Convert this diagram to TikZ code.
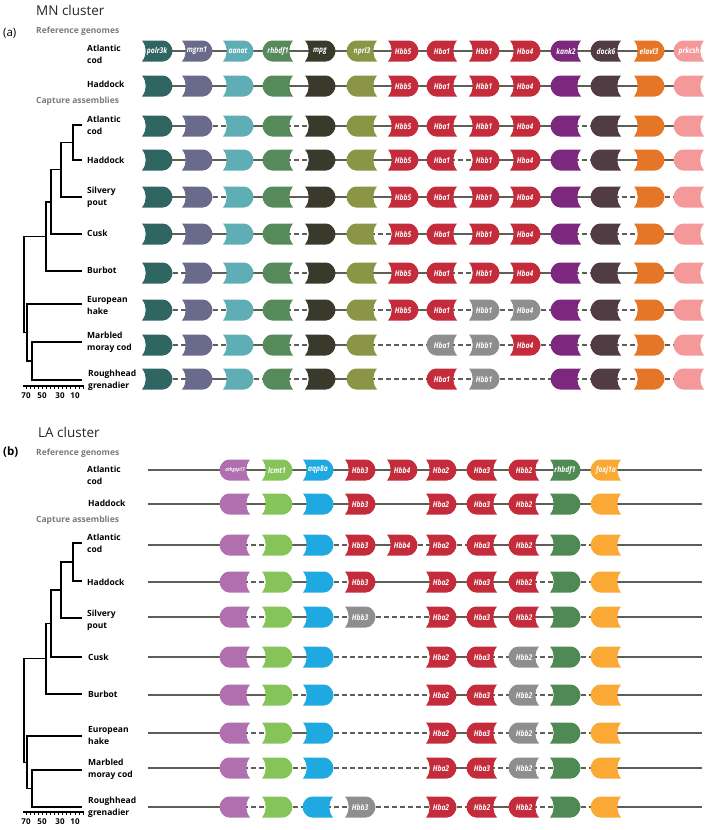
\documentclass[tikz,border=0pt]{standalone}
\usepackage{fontspec}
\setmainfont{Open Sans}
\newfontfamily\gfont[FakeStretch=0.84]{Open Sans}
\pgfdeclarelayer{bg}
\pgfsetlayers{bg,main}
\definecolor{mA}{HTML}{2F6662}
\definecolor{mB}{HTML}{6A6A8C}
\definecolor{mC}{HTML}{5FAEB6}
\definecolor{mD}{HTML}{578A5B}
\definecolor{mE}{HTML}{3A3A2C}
\definecolor{mF}{HTML}{8A9545}
\definecolor{hb}{HTML}{C42C3B}
\definecolor{gy}{HTML}{8E8E8E}
\definecolor{mK}{HTML}{7D287F}
\definecolor{mL}{HTML}{513C44}
\definecolor{mM}{HTML}{E57628}
\definecolor{mN}{HTML}{F4989A}
\definecolor{lA}{HTML}{B06FAE}
\definecolor{lB}{HTML}{86C45A}
\definecolor{lC}{HTML}{1EA9E1}
\definecolor{lD}{HTML}{4F8A55}
\definecolor{lE}{HTML}{F9A934}
\definecolor{lnk}{HTML}{5E5E55}
\definecolor{hdr}{HTML}{7B7B7B}
\tikzset{
  glabel/.style={rectangle, minimum width=30pt, minimum height=21pt, inner sep=0pt,
    text=white, font=\gfont\bfseries\itshape\fontsize{8}{8}\selectfont},
  lks/.style={draw=lnk, line width=1.2pt},
  lkd/.style={draw=lnk, line width=1.2pt, dash pattern=on 4.5pt off 3.5pt},
  species/.style={anchor=west, align=left, inner sep=0pt,
    font=\bfseries\fontsize{8.5}{12}\selectfont},
  section/.style={anchor=west, inner sep=0pt, text=hdr,
    font=\bfseries\fontsize{8.5}{10}\selectfont},
  title/.style={anchor=west, inner sep=0pt, text=black!85,
    font=\fontsize{13.5}{15}\selectfont},
  panel/.style={anchor=west, inner sep=0pt, font=\fontsize{11.5}{13}\selectfont},
  treeline/.style={draw=black, line width=1.4pt},
  scalebar/.style={draw=black, line width=1.8pt},
  scaletick/.style={draw=black, line width=0.9pt},
  scalenum/.style={inner sep=0pt, font=\bfseries\fontsize{8}{9}\selectfont}
}
\newcommand\gshape[4]{%
  \fill[#4, shift={(#1,#2)}, xscale=#3]
    (-15,-10.5) .. controls (-10,-4) and (-10,4) .. (-15,10.5)
    -- (6,10.5) .. controls (12,10.5) and (15.5,4) .. (15.5,0)
    .. controls (15.5,-4) and (12,-10.5) .. (6,-10.5) -- cycle;}
\newcommand\gene[6]{%
  \gshape{#2}{#3}{#4}{#5}%
  \node[glabel] (#1) at (#2,#3) {#6};}
\def\MNX{{157,197,238,278,320,362,403,442,484,525,566,606,649,689}}
\def\LAX{{235,277,318,360,402,441,482,524,565,606}}
\newcommand\generow[5]{%
  \foreach \c/\cl/\dr/\lb in {#4}{%
    \pgfmathsetmacro\gx{#2[\c-1]}%
    \gene{#1g\c}{\gx}{#3}{\dr}{\cl}{\lb}}%
  \begin{pgfonlayer}{bg}
    \foreach \a/\b/\t in {#5}{\draw[lk\t] (#1g\a.center) -- (#1g\b.center);}
  \end{pgfonlayer}}
\newcommand\larow[4]{%
  \coordinate (#1g0) at (148,#2);
  \coordinate (#1g11) at (702,#2);
  \generow{#1}{\LAX}{#2}{#3}{#4}}
\newcommand\drawtree[8]{%
  \pgfmathsetmacro\nAH{(#1+#2)/2}%
  \pgfmathsetmacro\nS{(\nAH+#3)/2}%
  \pgfmathsetmacro\nC{(\nS+#4)/2}%
  \pgfmathsetmacro\nB{(\nC+#5)/2}%
  \pgfmathsetmacro\nMR{(#7+#8)/2}%
  \pgfmathsetmacro\nE{(#6+\nMR)/2}%
  \draw[treeline] (82,#1) -| (73,#2) -- (82,#2);
  \draw[treeline] (73,\nAH) -| (61,#3) -- (82,#3);
  \draw[treeline] (61,\nS) -| (51,#4) -- (82,#4);
  \draw[treeline] (51,\nC) -| (46,#5) -- (82,#5);
  \draw[treeline] (82,#7) -| (32,#8) -- (82,#8);
  \draw[treeline] (32,\nMR) -| (27,#6) -- (82,#6);
  \draw[treeline] (46,\nB) -| (24,\nE) -- (27,\nE);}
\newcommand\drawscale[2]{%
  \draw[scalebar] (23,#1) -- (83.5,#1);
  \foreach \u in {0,5,...,70}{\draw[scaletick] (83.2-0.817*\u,#1) -- ++(0,2.8);}
  \node[scalenum] (#2a) at (26,#1+10) {70};
  \node[scalenum] (#2b) at (42,#1+10) {50};
  \node[scalenum] (#2c) at (60,#1+10) {30};
  \node[scalenum] (#2d) at (75,#1+10) {10};}
\begin{document}
\begin{tikzpicture}[x=1pt,y=-1pt]
\useasboundingbox (0,0) rectangle (709,830);
% ================= MN cluster =================
\node[title] (mntitle) at (36,10) {MN cluster};
\node[panel] (pa) at (3,33) {(a)};
\node[section] (mnref) at (36,31) {Reference genomes};
\node[section] (mncap) at (36,101) {Capture assemblies};
\node[species] (s1) at (87,54) {Atlantic\\cod};
\node[species] (s2) at (87,84) {Haddock};
\node[species] (s3) at (87,125) {Atlantic\\cod};
\node[species] (s4) at (87,160) {Haddock};
\node[species] (s5) at (87,197) {Silvery\\pout};
\node[species] (s6) at (87,233) {Cusk};
\node[species] (s7) at (87,270) {Burbot};
\node[species] (s8) at (87,305.5) {European\\hake};
\node[species] (s9) at (87,342) {Marbled\\moray cod};
\node[species] (s10) at (88,380) {Roughhead\\grenadier};
\drawtree{125}{160}{197}{234}{271}{304}{342}{380}
\drawscale{386}{mnsc}
\generow{ma}{\MNX}{51}{1/mA/1/polr3k,2/mB/1/mgrn1,3/mC/1/aanat,4/mD/-1/rhbdf1,5/mE/1/mpg,6/mF/-1/nprl3,7/hb/1/Hbb5,8/hb/-1/Hba1,9/hb/1/Hbb1,10/hb/1/Hba4,11/mK/-1/kank2,12/mL/-1/dock6,13/mM/1/elavl3,14/mN/-1/prkcsh}{1/2/s,2/3/s,3/4/s,4/5/s,5/6/s,6/7/s,7/8/s,8/9/s,9/10/s,10/11/s,11/12/s,12/13/s,13/14/s}
\generow{mb}{\MNX}{86}{1/mA/1/,2/mB/1/,3/mC/1/,4/mD/-1/,5/mE/1/,6/mF/-1/,7/hb/1/Hbb5,8/hb/-1/Hba1,9/hb/1/Hbb1,10/hb/1/Hba4,11/mK/-1/,12/mL/-1/,13/mM/1/,14/mN/-1/}{1/2/s,2/3/s,3/4/s,4/5/s,5/6/s,6/7/s,7/8/s,8/9/s,9/10/s,10/11/s,11/12/s,12/13/s,13/14/s}
\generow{mc}{\MNX}{126}{1/mA/1/,2/mB/1/,3/mC/1/,4/mD/-1/,5/mE/1/,6/mF/-1/,7/hb/1/Hbb5,8/hb/-1/Hba1,9/hb/1/Hbb1,10/hb/1/Hba4,11/mK/-1/,12/mL/-1/,13/mM/1/,14/mN/-1/}{1/2/s,2/3/d,3/4/s,4/5/d,5/6/s,6/7/s,7/8/s,8/9/s,9/10/s,10/11/s,11/12/d,12/13/s,13/14/s}
\generow{md}{\MNX}{160}{1/mA/1/,2/mB/1/,3/mC/1/,4/mD/-1/,5/mE/1/,6/mF/-1/,7/hb/1/Hbb5,8/hb/-1/Hba1,9/hb/1/Hbb1,10/hb/1/Hba4,11/mK/-1/,12/mL/-1/,13/mM/1/,14/mN/-1/}{1/2/s,2/3/s,3/4/s,4/5/d,5/6/s,6/7/s,7/8/s,8/9/d,9/10/s,10/11/s,11/12/d,12/13/s,13/14/s}
\generow{me}{\MNX}{197}{1/mA/1/,2/mB/1/,3/mC/1/,4/mD/-1/,5/mE/1/,6/mF/-1/,7/hb/1/Hbb5,8/hb/-1/Hba1,9/hb/1/Hbb1,10/hb/1/Hba4,11/mK/-1/,12/mL/-1/,13/mM/1/,14/mN/-1/}{1/2/s,2/3/d,3/4/s,4/5/s,5/6/s,6/7/s,7/8/s,8/9/s,9/10/s,10/11/s,11/12/s,12/13/d,13/14/d}
\generow{mf}{\MNX}{234}{1/mA/1/,2/mB/1/,3/mC/1/,4/mD/-1/,5/mE/1/,6/mF/-1/,7/hb/1/Hbb5,8/hb/-1/Hba1,9/hb/1/Hbb1,10/hb/1/Hba4,11/mK/-1/,12/mL/-1/,13/mM/1/,14/mN/-1/}{1/2/s,2/3/s,3/4/s,4/5/d,5/6/s,6/7/d,7/8/s,8/9/s,9/10/s,10/11/s,11/12/d,12/13/d,13/14/s}
\generow{mg}{\MNX}{273}{1/mA/1/,2/mB/1/,3/mC/1/,4/mD/-1/,5/mE/1/,6/mF/-1/,7/hb/1/Hbb5,8/hb/-1/Hba1,9/hb/1/Hbb1,10/hb/1/Hba4,11/mK/-1/,12/mL/-1/,13/mM/1/,14/mN/-1/}{1/2/d,2/3/s,3/4/s,4/5/d,5/6/s,6/7/s,7/8/s,8/9/d,9/10/s,10/11/s,11/12/d,12/13/s,13/14/s}
\generow{mh}{\MNX}{310}{1/mA/1/,2/mB/1/,3/mC/1/,4/mD/-1/,5/mE/1/,6/mF/-1/,7/hb/1/Hbb5,8/hb/-1/Hba1,9/gy/1/Hbb1,10/gy/1/Hba4,11/mK/-1/,12/mL/-1/,13/mM/1/,14/mN/-1/}{1/2/d,2/3/d,3/4/s,4/5/d,5/6/s,6/7/d,7/8/s,8/9/d,9/10/d,10/11/d,11/12/d,12/13/d,13/14/s}
\generow{mi}{\MNX}{345}{1/mA/1/,2/mB/1/,3/mC/1/,4/mD/-1/,5/mE/1/,6/mF/-1/,8/gy/-1/Hba1,9/gy/1/Hbb1,10/hb/1/Hba4,11/mK/-1/,12/mL/-1/,13/mM/1/,14/mN/-1/}{1/2/d,2/3/d,3/4/s,4/5/d,5/6/s,6/8/d,8/9/d,9/10/d,10/11/d,11/12/d,12/13/d,13/14/d}
\generow{mj}{\MNX}{379}{1/mA/1/,2/mB/1/,3/mC/1/,4/mD/-1/,5/mE/1/,6/mF/-1/,8/hb/-1/Hba1,9/gy/1/Hbb1,11/mK/-1/,12/mL/-1/,13/mM/1/,14/mN/-1/}{1/2/d,2/3/s,3/4/d,4/5/d,5/6/s,6/8/d,8/9/d,9/11/d,11/12/d,12/13/d,13/14/d}
% ================= LA cluster =================
\node[title] (latitle) at (38,432) {LA cluster};
\node[panel] (pb) at (3,452) {\bfseries (b)};
\node[section] (laref) at (36,453) {Reference genomes};
\node[section] (lacap) at (36,520) {Capture assemblies};
\node[species] (t1) at (87,475) {Atlantic\\cod};
\node[species] (t2) at (88,503) {Haddock};
\node[species] (t3) at (87,543.5) {Atlantic\\cod};
\node[species] (t4) at (87,582) {Haddock};
\node[species] (t5) at (87,620) {Silvery\\pout};
\node[species] (t6) at (88,657) {Cusk};
\node[species] (t7) at (88,694) {Burbot};
\node[species] (t8) at (88,735) {European\\hake};
\node[species] (t9) at (88,769) {Marbled\\moray cod};
\node[species] (t10) at (88,807.5) {Roughhead\\grenadier};
\drawtree{543}{581}{618}{657}{694}{736}{770}{807}
\drawscale{812}{lasc}
\larow{la}{470}{1/lA/-1/{\fontsize{5.2}{5.2}\selectfont arhgap17},2/lB/1/lcmt1,3/lC/1/aqp8a,4/hb/1/Hbb3,5/hb/1/Hbb4,6/hb/1/Hba2,7/hb/-1/Hba3,8/hb/-1/Hbb2,9/lD/1/rhbdf1,10/lE/-1/foxj1a}{0/1/s,1/2/s,2/3/s,3/4/s,4/5/s,5/6/s,6/7/s,7/8/s,8/9/s,9/10/s,10/11/s}
\larow{lb}{504}{1/lA/-1/,2/lB/1/,3/lC/1/,4/hb/1/Hbb3,6/hb/1/Hba2,7/hb/-1/Hba3,8/hb/-1/Hbb2,9/lD/1/,10/lE/-1/}{0/1/s,1/2/s,2/3/s,3/4/s,4/6/s,6/7/s,7/8/s,8/9/s,9/10/s,10/11/s}
\larow{lc}{545}{1/lA/-1/,2/lB/1/,3/lC/1/,4/hb/1/Hbb3,5/hb/1/Hbb4,6/hb/1/Hba2,7/hb/-1/Hba3,8/hb/-1/Hbb2,9/lD/1/,10/lE/-1/}{0/1/s,1/2/d,2/3/s,3/4/d,4/5/s,5/6/d,6/7/d,7/8/s,8/9/s,9/10/d,10/11/s}
\larow{ld}{582}{1/lA/-1/,2/lB/1/,3/lC/1/,4/hb/1/Hbb3,6/hb/1/Hba2,7/hb/-1/Hba3,8/hb/-1/Hbb2,9/lD/1/,10/lE/-1/}{0/1/s,1/2/d,2/3/s,3/4/d,4/6/s,6/7/s,7/8/s,8/9/d,9/10/d,10/11/s}
\larow{le}{617}{1/lA/-1/,2/lB/1/,3/lC/1/,4/gy/1/Hbb3,6/hb/1/Hba2,7/hb/-1/Hba3,8/hb/-1/Hbb2,9/lD/1/,10/lE/-1/}{0/1/s,1/2/d,2/3/s,3/4/d,4/6/d,6/7/s,7/8/s,8/9/s,9/10/d,10/11/s}
\larow{lf}{657}{1/lA/-1/,2/lB/1/,3/lC/1/,6/hb/1/Hba2,7/hb/-1/Hba3,8/gy/-1/Hbb2,9/lD/1/,10/lE/-1/}{0/1/s,1/2/s,2/3/s,3/6/d,6/7/s,7/8/d,8/9/d,9/10/d,10/11/s}
\larow{lg}{695}{1/lA/-1/,2/lB/1/,3/lC/1/,6/hb/1/Hba2,7/hb/-1/Hba3,8/gy/-1/Hbb2,9/lD/1/,10/lE/-1/}{0/1/s,1/2/s,2/3/d,3/6/d,6/7/s,7/8/d,8/9/d,9/10/d,10/11/s}
\larow{lh}{733}{1/lA/-1/,2/lB/1/,3/lC/1/,6/hb/1/Hba2,7/hb/-1/Hba3,8/gy/-1/Hbb2,9/lD/1/,10/lE/-1/}{0/1/s,1/2/d,2/3/s,3/6/d,6/7/s,7/8/d,8/9/d,9/10/d,10/11/s}
\larow{li}{768}{1/lA/-1/,2/lB/1/,3/lC/1/,6/hb/1/Hba2,7/hb/-1/Hba3,8/gy/-1/Hbb2,9/lD/1/,10/lE/-1/}{0/1/s,1/2/d,2/3/d,3/6/d,6/7/s,7/8/d,8/9/d,9/10/d,10/11/s}
\larow{lj}{807}{1/lA/-1/,2/lB/1/,3/lC/-1/,4/gy/1/Hbb3,6/hb/1/Hba2,7/hb/-1/Hbb2,8/hb/-1/Hbb2,9/lD/1/,10/lE/-1/}{0/1/s,1/2/d,2/3/d,3/4/d,4/6/d,6/7/d,7/8/s,8/9/d,9/10/d,10/11/s}
\end{tikzpicture}
\end{document}
